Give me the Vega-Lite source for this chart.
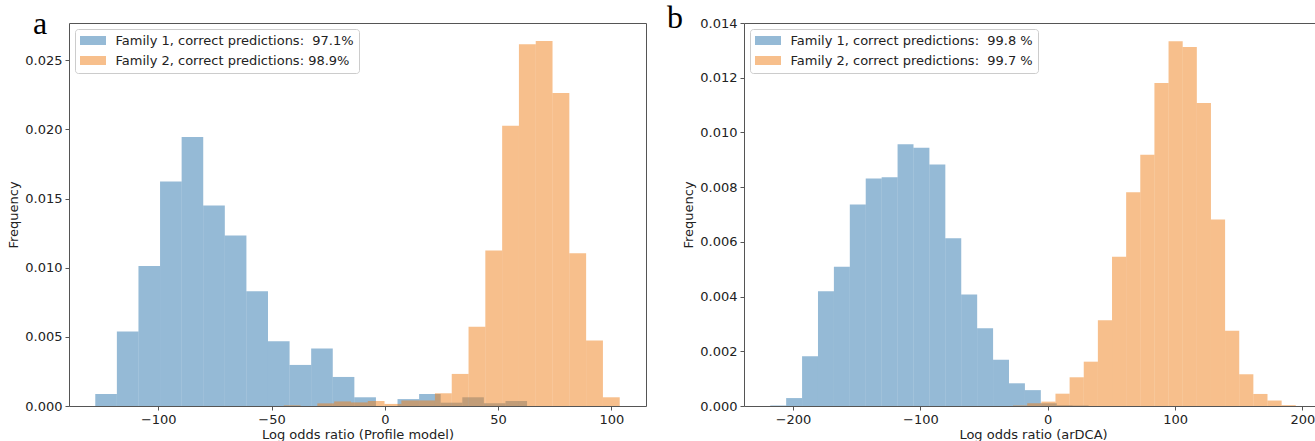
{
  "$schema": "https://vega.github.io/schema/vega-lite/v6.json",
  "background": "white",
  "padding": {"left": 7, "top": 1, "right": 0, "bottom": 0},
  "spacing": 98,
  "bounds": "flush",
  "resolve": {"scale": {"color": "independent"}, "legend": {"color": "independent"}},
  "config": {
    "view": {"stroke": "#555", "strokeWidth": 1},
    "axis": {
      "grid": false, "domain": false, "tickColor": "#555", "tickSize": 4,
      "labelFont": "DejaVu Sans", "labelFontSize": 13, "labelColor": "#222", "labelPadding": 3,
      "titleFont": "DejaVu Sans", "titleFontSize": 13, "titleFontWeight": "normal", "titleColor": "#222"
    },
    "legend": {
      "labelFont": "DejaVu Sans", "labelFontSize": 13, "labelColor": "#222", "labelLimit": 500,
      "symbolType": "M-2,-0.69H2V0.69H-2Z", "symbolSize": 169, "symbolOffset": 6.5, "symbolStrokeWidth": 0, "symbolOpacity": 0.5,
      "strokeColor": "#cccccc", "fillColor": "white", "cornerRadius": 3, "padding": 5,
      "rowPadding": 6, "labelOffset": 16, "offset": 6
    },
    "title": {"font": "Liberation Serif", "fontSize": 32, "fontWeight": "normal", "anchor": "start", "frame": "group", "baseline": "alphabetic", "offset": 0, "color": "#000"}
  },
  "hconcat": [
    {
      "width": 577, "height": 383,
      "title": {"text": "a", "dx": -36, "dy": 22},
      "data": {"values": [
        {"s": "F1", "x0": -127.8, "x1": -118.27, "f": 0.00087},
        {"s": "F1", "x0": -118.27, "x1": -108.74, "f": 0.00538},
        {"s": "F1", "x0": -108.74, "x1": -99.21, "f": 0.01013},
        {"s": "F1", "x0": -99.21, "x1": -89.68, "f": 0.01624},
        {"s": "F1", "x0": -89.68, "x1": -80.15, "f": 0.01945},
        {"s": "F1", "x0": -80.15, "x1": -70.62, "f": 0.0145},
        {"s": "F1", "x0": -70.62, "x1": -61.09, "f": 0.01233},
        {"s": "F1", "x0": -61.09, "x1": -51.56, "f": 0.0083},
        {"s": "F1", "x0": -51.56, "x1": -42.03, "f": 0.00468},
        {"s": "F1", "x0": -42.03, "x1": -32.5, "f": 0.00297},
        {"s": "F1", "x0": -32.5, "x1": -22.97, "f": 0.00415},
        {"s": "F1", "x0": -22.97, "x1": -13.44, "f": 0.0021},
        {"s": "F1", "x0": -13.44, "x1": -3.91, "f": 0.00063},
        {"s": "F1", "x0": -3.91, "x1": 5.62, "f": 0},
        {"s": "F1", "x0": 5.62, "x1": 15.15, "f": 0.0005},
        {"s": "F1", "x0": 15.15, "x1": 24.68, "f": 0.00087},
        {"s": "F1", "x0": 24.68, "x1": 34.21, "f": 0.00024},
        {"s": "F1", "x0": 34.21, "x1": 43.74, "f": 0.00063},
        {"s": "F1", "x0": 43.74, "x1": 53.27, "f": 0.0002},
        {"s": "F1", "x0": 53.27, "x1": 62.8, "f": 0.00036},
        {"s": "F2", "x0": -44.6, "x1": -37.19, "f": 0.00005},
        {"s": "F2", "x0": -37.19, "x1": -29.77, "f": 0},
        {"s": "F2", "x0": -29.77, "x1": -22.36, "f": 0.00019},
        {"s": "F2", "x0": -22.36, "x1": -14.94, "f": 0.00033},
        {"s": "F2", "x0": -14.94, "x1": -7.53, "f": 0.00026},
        {"s": "F2", "x0": -7.53, "x1": -0.11, "f": 0.00036},
        {"s": "F2", "x0": -0.11, "x1": 7.31, "f": 0.00015},
        {"s": "F2", "x0": 7.31, "x1": 14.72, "f": 0.0004},
        {"s": "F2", "x0": 14.72, "x1": 22.14, "f": 0.0004},
        {"s": "F2", "x0": 22.14, "x1": 29.55, "f": 0.00092},
        {"s": "F2", "x0": 29.55, "x1": 36.97, "f": 0.00232},
        {"s": "F2", "x0": 36.97, "x1": 44.38, "f": 0.00574},
        {"s": "F2", "x0": 44.38, "x1": 51.8, "f": 0.01125},
        {"s": "F2", "x0": 51.8, "x1": 59.21, "f": 0.02027},
        {"s": "F2", "x0": 59.21, "x1": 66.63, "f": 0.02616},
        {"s": "F2", "x0": 66.63, "x1": 74.04, "f": 0.0264},
        {"s": "F2", "x0": 74.04, "x1": 81.46, "f": 0.02264},
        {"s": "F2", "x0": 81.46, "x1": 88.87, "f": 0.01105},
        {"s": "F2", "x0": 88.87, "x1": 96.29, "f": 0.00473},
        {"s": "F2", "x0": 96.29, "x1": 103.7, "f": 0.00063}
      ]},
      "mark": {"type": "rect", "opacity": 0.5},
      "encoding": {
        "x": {"field": "x0", "type": "quantitative",
          "scale": {"domain": [-139.4, 115.3], "nice": false, "zero": false},
          "axis": {"values": [-100, -50, 0, 50, 100], "format": "d", "title": "Log odds ratio (Profile model)", "titlePadding": 2}},
        "x2": {"field": "x1"},
        "y": {"field": "f", "type": "quantitative",
          "scale": {"domain": [0, 0.0277], "nice": false},
          "axis": {"values": [0, 0.005, 0.01, 0.015, 0.02, 0.025], "format": ".3f", "title": "Frequency", "titlePadding": 4}},
        "y2": {"datum": 0},
        "color": {"field": "s", "type": "nominal",
          "scale": {"domain": ["F1", "F2"], "range": ["#2c75ae", "#ef7f1a"]},
          "legend": {"title": null, "orient": "top-left",
            "labelExpr": "datum.label == 'F1' ? 'Family 1, correct predictions:\u00a0 97.1%' : 'Family 2, correct predictions: 98.9%'"}}
      }
    },
    {
      "width": 578, "height": 383,
      "title": {"text": "b", "dx": -77, "dy": 22},
      "data": {"values": [
        {"s": "F1", "x0": -217.9, "x1": -205.4, "f": 0.00002},
        {"s": "F1", "x0": -205.4, "x1": -192.9, "f": 0.00029},
        {"s": "F1", "x0": -192.9, "x1": -180.4, "f": 0.00182},
        {"s": "F1", "x0": -180.4, "x1": -167.9, "f": 0.00419},
        {"s": "F1", "x0": -167.9, "x1": -155.4, "f": 0.00509},
        {"s": "F1", "x0": -155.4, "x1": -142.9, "f": 0.00737},
        {"s": "F1", "x0": -142.9, "x1": -130.4, "f": 0.00832},
        {"s": "F1", "x0": -130.4, "x1": -117.9, "f": 0.00836},
        {"s": "F1", "x0": -117.9, "x1": -105.4, "f": 0.00957},
        {"s": "F1", "x0": -105.4, "x1": -92.9, "f": 0.00944},
        {"s": "F1", "x0": -92.9, "x1": -80.4, "f": 0.00883},
        {"s": "F1", "x0": -80.4, "x1": -67.9, "f": 0.00613},
        {"s": "F1", "x0": -67.9, "x1": -55.4, "f": 0.00408},
        {"s": "F1", "x0": -55.4, "x1": -42.9, "f": 0.00284},
        {"s": "F1", "x0": -42.9, "x1": -30.4, "f": 0.00169},
        {"s": "F1", "x0": -30.4, "x1": -17.9, "f": 0.00083},
        {"s": "F1", "x0": -17.9, "x1": -5.4, "f": 0.00058},
        {"s": "F1", "x0": -5.4, "x1": 7.1, "f": 0.0001},
        {"s": "F1", "x0": 7.1, "x1": 19.6, "f": 0.00003},
        {"s": "F1", "x0": 19.6, "x1": 32.1, "f": 0.00002},
        {"s": "F2", "x0": -27.2, "x1": -16.1, "f": 0.00002},
        {"s": "F2", "x0": -16.1, "x1": -5.0, "f": 0.0001},
        {"s": "F2", "x0": -5.0, "x1": 6.1, "f": 0.00016},
        {"s": "F2", "x0": 6.1, "x1": 17.2, "f": 0.00045},
        {"s": "F2", "x0": 17.2, "x1": 28.3, "f": 0.00105},
        {"s": "F2", "x0": 28.3, "x1": 39.4, "f": 0.00162},
        {"s": "F2", "x0": 39.4, "x1": 50.5, "f": 0.00313},
        {"s": "F2", "x0": 50.5, "x1": 61.6, "f": 0.00546},
        {"s": "F2", "x0": 61.6, "x1": 72.7, "f": 0.00781},
        {"s": "F2", "x0": 72.7, "x1": 83.8, "f": 0.00918},
        {"s": "F2", "x0": 83.8, "x1": 94.9, "f": 0.01181},
        {"s": "F2", "x0": 94.9, "x1": 106.0, "f": 0.01333},
        {"s": "F2", "x0": 106.0, "x1": 117.1, "f": 0.01312},
        {"s": "F2", "x0": 117.1, "x1": 128.2, "f": 0.01108},
        {"s": "F2", "x0": 128.2, "x1": 139.3, "f": 0.00682},
        {"s": "F2", "x0": 139.3, "x1": 150.4, "f": 0.00275},
        {"s": "F2", "x0": 150.4, "x1": 161.5, "f": 0.00116},
        {"s": "F2", "x0": 161.5, "x1": 172.6, "f": 0.00044},
        {"s": "F2", "x0": 172.6, "x1": 183.7, "f": 0.0002},
        {"s": "F2", "x0": 183.7, "x1": 194.8, "f": 0.00003}
      ]},
      "mark": {"type": "rect", "opacity": 0.5},
      "encoding": {
        "x": {"field": "x0", "type": "quantitative",
          "scale": {"domain": [-238.5, 215.4], "nice": false, "zero": false},
          "axis": {"values": [-200, -100, 0, 100, 200], "format": "d", "title": "Log odds ratio (arDCA)", "titlePadding": 2}},
        "x2": {"field": "x1"},
        "y": {"field": "f", "type": "quantitative",
          "scale": {"domain": [0, 0.014], "nice": false},
          "axis": {"values": [0, 0.002, 0.004, 0.006, 0.008, 0.01, 0.012, 0.014], "format": ".3f", "title": "Frequency", "titlePadding": 4}},
        "y2": {"datum": 0},
        "color": {"field": "s", "type": "nominal",
          "scale": {"domain": ["F1", "F2"], "range": ["#2c75ae", "#ef7f1a"]},
          "legend": {"title": null, "orient": "top-left",
            "labelExpr": "datum.label == 'F1' ? 'Family 1, correct predictions:\u00a0 99.8 %' : 'Family 2, correct predictions:\u00a0 99.7 %'"}}
      }
    }
  ]
}
